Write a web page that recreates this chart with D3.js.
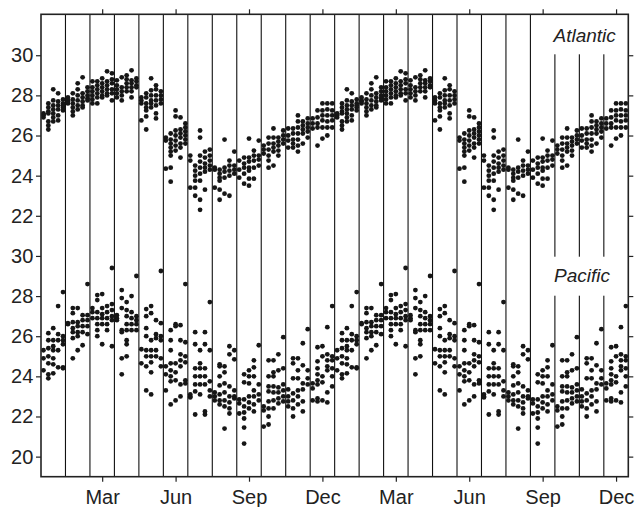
<!DOCTYPE html>
<html>
<head>
<meta charset="utf-8">
<script src="https://cdn.jsdelivr.net/npm/d3@7"></script>
<style>
  body { margin: 0; background: #fff; }
  text { font-family: "Liberation Sans", Arial, Helvetica, sans-serif; }
</style>
</head>
<body>
<div id="chart"></div>
<script>
// monthly sea surface temperature, 5 readings columns per month, several years each
var months = ["Jan","Feb","Mar","Apr","May","Jun","Jul","Aug","Sep","Oct","Nov","Dec"]
var colOffsets = [-0.4, -0.2, 0, 0.2, 0.4]
var tickMonths = [3, 6, 9, 12, 15, 18, 21, 24]
var tickLabels = ["Mar","Jun","Sep","Dec","Mar","Jun","Sep","Dec"]
var pacTicks = [20, 22, 24, 26, 28, 30]
var atlTicks = [22, 24, 26, 28, 30]
var atlShift = 10   // atlantic drawn 10 degrees above pacific on the same scale

var atlantic = [
  // Jan
  [[27.0,27.1,26.9,27.05],[27.6,27.4,27.2,27.1,26.7,26.5,26.3],[28.3,27.75,27.5,27.3,27.1,26.9,26.7],[28.1,27.7,27.5,27.3,27.0,26.75],[27.8,27.6,27.4,27.25,27.5]],
  // Feb
  [[27.9,27.75,27.6,27.7],[28.1,27.8,27.6,27.4,27.2,27.0],[28.6,28.3,28.0,27.75,27.5,27.3],[28.9,28.1,27.9,27.7,27.5,27.4],[28.4,28.2,28.0,27.85,27.75]],
  // Mar
  [[28.7,28.4,28.2,28.0,27.8,27.6],[28.7,28.5,28.3,28.1,27.9,27.6],[28.85,28.6,28.4,28.2,28.0,27.9],[29.2,28.7,28.5,28.3,28.1,28.0],[29.1,28.8,28.6,28.3,28.1,27.75]],
  // Apr
  [[28.75,28.5,28.3,28.1,27.9],[28.9,28.4,28.2,28.0,27.75],[29.0,28.8,28.6,28.4,28.2],[29.25,28.75,28.6,28.4,28.2,27.9],[28.85,28.7,28.5,28.4]],
  // May
  [[27.9,27.75,27.6,26.75],[28.1,27.9,27.6,27.4,27.25,26.95,26.3],[28.85,28.25,28.0,27.75,27.6,27.4],[28.5,28.3,28.0,27.75,27.5,27.1,26.85],[28.2,28.0,27.8,27.6]],
  // Jun
  [[25.9,25.75,24.35],[26.1,25.8,25.6,25.4,25.2,25.0,24.4,23.7],[27.25,26.95,26.25,26.0,25.75,25.5,25.25],[26.9,26.3,26.1,25.9,25.6,25.4,24.9],[26.6,26.4,26.2,26.0,25.8,25.6]],
  // Jul
  [[25.0,24.75,23.4],[24.5,24.25,24.0,23.75,23.4,23.0],[26.25,25.9,25.0,24.7,24.4,24.1,23.75,22.8,22.3],[25.2,24.9,24.6,24.4,24.2,23.3],[25.3,25.0,24.75,24.5,24.3]],
  // Aug
  [[24.4,24.3,23.4],[24.3,24.1,23.9,23.75,23.3,22.8],[25.8,24.4,24.2,23.9,23.1],[24.75,24.5,24.25,24.0,23.0],[25.2,24.5,24.3,24.1]],
  // Sep
  [[24.75,24.3,23.9],[24.9,24.6,24.4,24.1,23.6],[25.85,24.9,24.7,24.4,24.25,23.85,23.5],[25.25,25.0,24.75,24.4,23.85],[25.75,25.0,24.8,24.5]],
  // Oct
  [[25.5,25.3,25.1],[25.9,25.6,25.3,25.0,24.75,24.4],[26.35,25.9,25.6,25.4,25.2,24.5],[25.9,25.7,25.5,25.25,25.0],[26.25,26.0,25.8,25.6]],
  // Nov
  [[26.35,26.0,25.75,25.4],[26.35,26.1,25.8,25.6,25.4],[27.0,26.7,26.4,26.1,25.8,25.5,25.2],[26.7,26.5,26.3,26.1,25.6],[26.85,26.6,26.4,26.2,25.9]],
  // Dec
  [[26.85,26.6,26.35],[27.25,26.9,26.6,26.4,25.5],[27.6,27.25,27.0,26.75,26.4,25.85],[27.6,27.3,27.0,26.7,26.4,26.0],[27.6,27.25,27.0,26.75,26.4]]
]

var pacific = [
  // Jan
  [[25.3,24.9,24.3],[26.15,25.8,25.4,25.0,24.65,24.1,23.9],[26.4,25.8,25.5,25.3,24.9,24.6,24.15],[27.5,26.1,25.8,25.3,24.45],[28.2,26.0,25.8,25.6,24.45,24.4]],
  // Feb
  [[26.65,26.6],[27.4,27.15,26.7,26.4,26.2,25.9,24.9],[27.4,26.7,26.5,26.2,26.0,25.3],[27.05,26.8,26.5,26.2,25.55],[28.6,27.05,26.8,26.5,26.1]],
  // Mar
  [[27.4,27.2,26.9],[28.05,27.8,27.2,26.9,26.6,26.3,26.0],[28.1,27.4,27.1,26.9,26.6,25.6],[27.5,27.2,26.9,26.6,26.3],[29.4,27.6,27.3,27.0,26.8,25.5]],
  // Apr
  [[27.05,26.9,26.8],[28.3,27.9,27.4,26.3,26.2,24.9,24.1],[27.7,27.3,27.0,26.6,26.3,25.8,25.6,25.0],[28.0,27.2,26.9,26.6,26.3],[29.0,27.0,26.8,26.6,26.3]],
  // May
  [[25.35,24.65],[27.35,27.0,26.4,26.0,25.3,25.0,24.5,23.3],[27.5,27.15,25.8,25.3,25.0,24.7,24.2,23.1],[26.8,26.1,25.9,25.3,25.0],[29.25,26.65,26.0,25.8,24.9,24.5]],
  // Jun
  [[24.5,24.1,23.3],[26.3,25.8,25.3,24.65,24.3,24.0,23.75,22.6],[26.6,26.5,24.65,24.2,23.8,22.8],[26.55,25.8,25.1,24.8,24.5,23.6,23.0],[28.6,25.7,25.0,24.7,23.8,23.65]],
  // Jul
  [[23.1,23.0,22.95],[26.2,25.6,24.4,24.0,23.6,23.25,22.1],[25.3,24.65,24.4,24.0,23.6,23.1],[26.2,25.6,24.4,24.0,23.6,22.25,22.1],[27.7,25.3,23.75,23.3,23.0]],
  // Aug
  [[23.2,23.0,22.8],[24.6,24.5,24.0,23.55,23.1,22.8,22.6],[24.5,24.2,23.65,23.2,22.8,22.5,21.4],[25.5,25.1,23.5,23.0,22.7,22.4,22.15],[25.3,24.85,23.3,23.0,22.9]],
  // Sep
  [[22.85,22.65,22.15],[24.1,23.7,22.85,22.5,22.2,21.9,21.45,20.65],[24.3,24.0,23.65,23.0,22.7,22.4],[24.8,24.45,24.0,23.3,23.0,22.6,22.25],[25.55,23.6,23.1,22.8]],
  // Oct
  [[22.5,22.3,21.5],[24.8,24.0,23.5,23.25,22.75,22.4,22.0,21.6],[24.8,24.2,24.0,23.5,23.2,22.8,22.4],[25.1,24.3,23.45,23.2,22.9,22.65],[25.95,24.4,23.6,23.3,23.0,22.75]],
  // Nov
  [[23.35,23.0,22.75,22.5],[24.9,24.65,23.9,23.15,22.8,22.4,22.0],[24.9,24.3,23.9,23.3,23.0,22.6],[25.65,24.55,23.65,23.35,22.75,22.25],[26.35,24.3,23.9,23.6]],
  // Dec
  [[23.65,23.4,22.8],[25.45,24.75,24.4,24.1,23.8,23.6,22.9,22.75],[25.5,25.0,24.0,23.7,22.8],[26.45,25.1,24.8,24.5,24.3,23.2,22.7],[27.5,25.0,24.8,24.4,24.0,23.5]]
]

var W = 639, H = 507
var padL = 41, padR = 628.3, padT = 14.3, padB = 476.7

var svg = d3.select('#chart').append('svg')
  .attr('width', W)
  .attr('height', H)

var x = d3.scaleLinear().domain([0.5, 24.5]).range([padL, padR])
var y = d3.scaleLinear().domain([19, 42.04]).range([padB, padT])

// turn the nested arrays into points, two years side by side
function toPoints(data, shift) {
  var pts = []
  for (var yr = 0; yr < 2; yr++) {
    data.forEach(function(cols, mi) {
      cols.forEach(function(vals, ci) {
        vals.forEach(function(v) {
          pts.push({ m: yr * 12 + mi + 1 + colOffsets[ci], v: v + shift })
        })
      })
    })
  }
  return pts
}

// month dividers
var dividers = d3.range(1.5, 24, 1)
svg.append('g').selectAll('line')
  .data(dividers)
  .enter()
  .append('line')
  .attr('x1', function(d) { return x(d) })
  .attr('x2', function(d) { return x(d) })
  .attr('y1', padT)
  .attr('y2', padB)
  .attr('stroke', '#111')
  .attr('stroke-width', 1.1)

// white boxes behind the panel names
svg.append('rect').attr('x', 546).attr('y', padT).attr('width', padR - 546).attr('height', 40).attr('fill', '#fff')
svg.append('rect').attr('x', 546).attr('y', 256.7).attr('width', padR - 546).attr('height', 39).attr('fill', '#fff')

svg.append('text').attr('x', 553.5).attr('y', 42.3)
  .attr('font-size', 19).attr('font-style', 'italic').attr('fill', '#222')
  .text('Atlantic')
svg.append('text').attr('x', 554).attr('y', 282.3)
  .attr('font-size', 19).attr('font-style', 'italic').attr('fill', '#222')
  .text('Pacific')

var points = toPoints(atlantic, atlShift).concat(toPoints(pacific, 0))
svg.append('g').selectAll('circle')
  .data(points)
  .enter()
  .append('circle')
  .attr('cx', function(d) { return x(d.m) })
  .attr('cy', function(d) { return y(d.v) })
  .attr('r', 2.4)
  .attr('fill', '#161616')

// frame
svg.append('rect')
  .attr('x', padL).attr('y', padT)
  .attr('width', padR - padL).attr('height', padB - padT)
  .attr('fill', 'none').attr('stroke', '#222').attr('stroke-width', 1.6)

function styleAxis(g) {
  g.select('.domain').remove()
  g.selectAll('.tick line').attr('stroke', '#222').attr('stroke-width', 1.2)
  g.selectAll('.tick text').attr('font-size', 20).attr('fill', '#222')
    .attr('font-family', '"Liberation Sans", Arial, Helvetica, sans-serif')
}

svg.append('g').attr('transform', 'translate(' + padL + ',0)')
  .call(d3.axisLeft(y).tickValues(pacTicks).tickSize(5).tickPadding(2.7).tickFormat(d3.format('d')))
  .call(styleAxis)
svg.append('g').attr('transform', 'translate(' + padL + ',0)')
  .call(d3.axisLeft(y).tickValues(atlTicks.map(function(d) { return d + atlShift }))
    .tickSize(5).tickPadding(2.7).tickFormat(function(d) { return d - atlShift }))
  .call(styleAxis)

svg.append('g').attr('transform', 'translate(' + padR + ',0)')
  .call(d3.axisRight(y).tickValues(pacTicks.concat(atlTicks.map(function(d) { return d + atlShift })))
    .tickSize(5).tickFormat(''))
  .call(styleAxis)

svg.append('g').attr('transform', 'translate(0,' + padB + ')')
  .call(d3.axisBottom(x).tickValues(tickMonths).tickSize(5).tickPadding(8.3)
    .tickFormat(function(d, i) { return tickLabels[i] }))
  .call(styleAxis)

svg.append('g').attr('transform', 'translate(0,' + padT + ')')
  .call(d3.axisTop(x).tickValues(tickMonths).tickSize(5).tickFormat(''))
  .call(styleAxis)
</script>
</body>
</html>
